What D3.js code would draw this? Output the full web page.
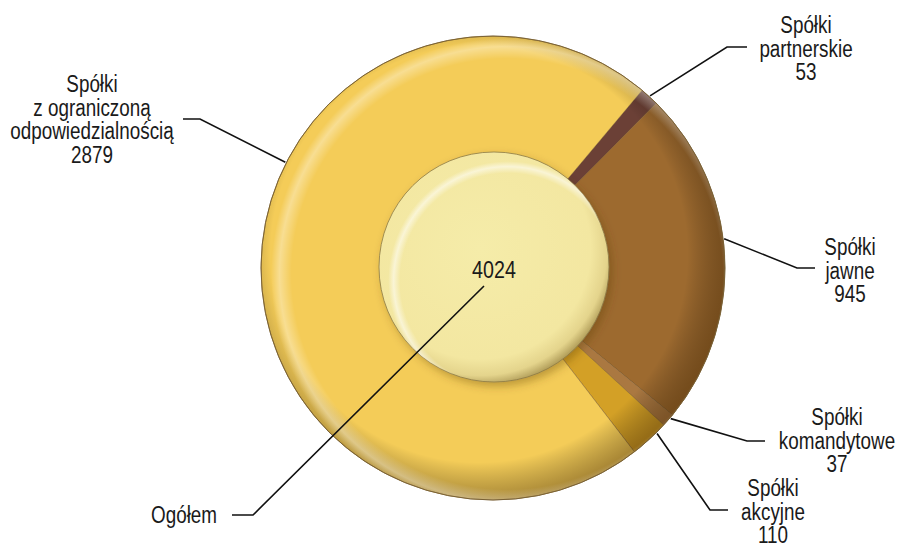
<!DOCTYPE html>
<html>
<head>
<meta charset="utf-8">
<script src="https://cdn.jsdelivr.net/npm/d3@7"></script>
<style>
  body { margin:0; background:#fff; }
  svg text { font-family:"Liberation Sans",Arial,sans-serif; fill:#1a1a1a; }
</style>
</head>
<body>
<svg id="chart" width="899" height="546"></svg>
<script>
// data
var categories = ["Spółki partnerskie", "Spółki jawne", "Spółki komandytowe", "Spółki akcyjne", "Spółki z ograniczoną odpowiedzialnością"];
var values     = [53, 945, 37, 110, 2879];
var labelLines = [["Spółki","partnerskie"], ["Spółki","jawne"], ["Spółki","komandytowe"], ["Spółki","akcyjne"], ["Spółki","z ograniczoną","odpowiedzialnością"]];
var colors     = ["#6b4036", "#9d6a2f", "#aa7841", "#d3a026", "#f4cc58"];
var totalLabel = "Ogółem";

// layout (label placement, not data)
var cx = 493, cy = 268, R = 232, r0 = 108, rc = 115;
var startDeg = 40;
var callouts = [ // where along the slice the leader starts, elbow, end of horizontal, text centre
  {f:0.5,  ex:727, ey:47,  hx:747, tx:806, ty:25},
  {f:0.45, ex:797, ey:268, hx:815, tx:850, ty:247},
  {f:0.3,  ex:747, ey:441, hx:765, tx:837, ty:417},
  {f:0.27, ex:710, ey:510, hx:728, tx:773, ty:488},
  {f:0.6,  ex:200, ey:119, hx:183, tx:92,  ty:84}
];
var lh = 23.5, squeeze = 0.82;

var svg = d3.select("#chart");
var defs = svg.append("defs");

// gradients are in the translated space of the ring (origin = centre)
var shade = defs.append("radialGradient").attr("id","shade")
    .attr("gradientUnits","userSpaceOnUse")
    .attr("cx",-14).attr("cy",-14).attr("r",R+16);
shade.append("stop").attr("offset",0).attr("stop-color","#000").attr("stop-opacity",0);
shade.append("stop").attr("offset",0.84).attr("stop-color","#000").attr("stop-opacity",0);
shade.append("stop").attr("offset",1).attr("stop-color","#3a2000").attr("stop-opacity",0.4);

var shine = defs.append("radialGradient").attr("id","shine")
    .attr("gradientUnits","userSpaceOnUse")
    .attr("cx",14).attr("cy",6).attr("r",R+10);
shine.append("stop").attr("offset",0.89).attr("stop-color","#fff").attr("stop-opacity",0);
shine.append("stop").attr("offset",0.94).attr("stop-color","#fff").attr("stop-opacity",0.35);
shine.append("stop").attr("offset",0.975).attr("stop-color","#fff").attr("stop-opacity",0);

var disc = defs.append("radialGradient").attr("id","disc")
    .attr("cx","44%").attr("cy","42%").attr("r","60%");
disc.append("stop").attr("offset",0).attr("stop-color","#f5eca9");
disc.append("stop").attr("offset",0.8).attr("stop-color","#f3e7a1");
disc.append("stop").attr("offset",0.92).attr("stop-color","#e4d48c");
disc.append("stop").attr("offset",1).attr("stop-color","#b09c58");

var discHi = defs.append("radialGradient").attr("id","discHi")
    .attr("cx","56%").attr("cy","56%").attr("r","52%");
discHi.append("stop").attr("offset",0.9).attr("stop-color","#fff").attr("stop-opacity",0);
discHi.append("stop").attr("offset",0.955).attr("stop-color","#fff").attr("stop-opacity",0.55);
discHi.append("stop").attr("offset",1).attr("stop-color","#fff").attr("stop-opacity",0);

var ds = defs.append("filter").attr("id","drop").attr("x","-20%").attr("y","-20%").attr("width","150%").attr("height","150%");
ds.append("feDropShadow").attr("dx",3).attr("dy",4).attr("stdDeviation",4)
  .attr("flood-color","#5a3c00").attr("flood-opacity",0.35);

var pie = d3.pie().sort(null).value(function(d){ return d; })
    .startAngle(startDeg*Math.PI/180).endAngle(startDeg*Math.PI/180 + 2*Math.PI);
var arcs = pie(values);
var arc = d3.arc().innerRadius(r0).outerRadius(R);

var g = svg.append("g").attr("transform","translate("+cx+","+cy+")");

g.selectAll(".slice").data(arcs).enter().append("path")
    .attr("class","slice")
    .attr("d", arc)
    .attr("fill", function(d,i){ return colors[i]; })
    .attr("stroke","#6e4e22").attr("stroke-opacity",0.55).attr("stroke-width",0.8);

var ring = d3.arc().innerRadius(r0).outerRadius(R).startAngle(0).endAngle(2*Math.PI);
g.append("path").attr("d",ring()).attr("fill","url(#shade)");
g.append("path").attr("d",ring()).attr("fill","url(#shine)");
g.append("circle").attr("r",R)
    .attr("fill","none").attr("stroke","#7a6235").attr("stroke-width",1);

// centre disc
g.append("circle").attr("cx",1).attr("cy",-1).attr("r",rc)
    .attr("fill","url(#disc)").attr("filter","url(#drop)")
    .attr("stroke","#8c7a45").attr("stroke-width",0.8);
g.append("circle").attr("cx",1).attr("cy",-1).attr("r",rc)
    .attr("fill","url(#discHi)");

function label(x, y, lines, anchor, size) {
  var t = svg.append("text")
     .attr("transform","translate("+x+","+y+") scale("+squeeze+",1)")
     .attr("text-anchor",anchor).attr("font-size",size);
  lines.forEach(function(s,k){
    t.append("tspan").attr("x",0).attr("y",k*lh).attr("dy","0.35em").text(s);
  });
}

// leaders and labels
var line = d3.line();
arcs.forEach(function(a,i){
  var c = callouts[i];
  var ang = a.startAngle + c.f*(a.endAngle - a.startAngle);
  var px = cx + (R+1)*Math.sin(ang), py = cy - (R+1)*Math.cos(ang);
  svg.append("path")
     .attr("d", line([[px,py],[c.ex,c.ey],[c.hx,c.ey]]))
     .attr("fill","none").attr("stroke","#111").attr("stroke-width",1.6);
  label(c.tx, c.ty, labelLines[i].concat([String(a.data)]), "middle", 23);
});

// total
var total = d3.sum(values);
label(cx+1, cy+2, [String(total)], "middle", 24);
svg.append("path")
   .attr("d", line([[cx-9,cy+18],[253,515],[232,515]]))
   .attr("fill","none").attr("stroke","#111").attr("stroke-width",1.6);
label(217, 515, [totalLabel], "end", 23);
</script>
</body>
</html>
